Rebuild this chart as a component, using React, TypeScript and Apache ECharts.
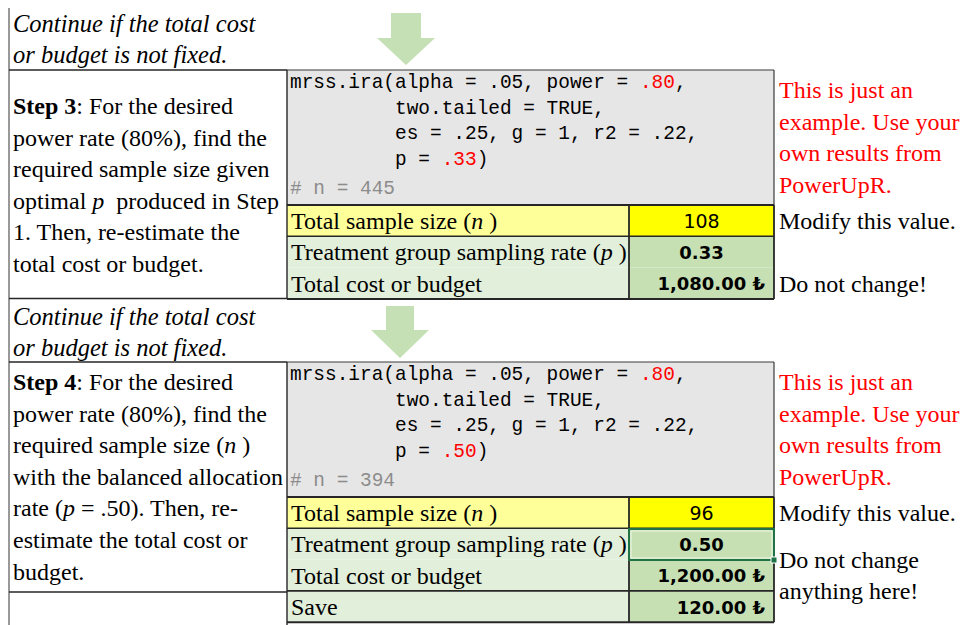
import React, { useEffect, useRef } from "react";
import * as echarts from "echarts";

// ---------- content ----------
const continueLines = ["Continue if the total cost", "or budget is not fixed."];

const step3Lines = [
  "{b|Step 3}: For the desired",
  "power rate (80%), find the",
  "required sample size given",
  "optimal {i|p}  produced in Step",
  "1. Then, re-estimate the",
  "total cost or budget.",
];
const step4Lines = [
  "{b|Step 4}: For the desired",
  "power rate (80%), find the",
  "required sample size ({i|n} )",
  "with the balanced allocation",
  "rate ({i|p} = .50). Then, re-",
  "estimate the total cost or",
  "budget.",
];

const step3Code = [
  "mrss.ira(alpha = .05, power = {r|.80},",
  "         two.tailed = TRUE,",
  "         es = .25, g = 1, r2 = .22,",
  "         p = {r|.33})",
];
const step3Result = "# n = 445";
const step4Code = [
  "mrss.ira(alpha = .05, power = {r|.80},",
  "         two.tailed = TRUE,",
  "         es = .25, g = 1, r2 = .22,",
  "         p = {r|.50})",
];
const step4Result = "# n = 394";

const step3Labels = [
  "Total sample size ({i|n} )",
  "Treatment group sampling rate ({i|p} )",
  "Total cost or budget",
];
const step3Values = ["108", "0.33", "1,080.00 ₺"];

const step4Labels = [
  "Total sample size ({i|n} )",
  "Treatment group sampling rate ({i|p} )",
  "Total cost or budget",
  "Save",
];
const step4Values = ["96", "0.50", "1,200.00 ₺", "120.00 ₺"];

const noteLines = ["This is just an", "example. Use your", "own results from", "PowerUpR."];
const modifyNote = "Modify this value.";
const step3Keep = ["Do not change!"];
const step4Keep = ["Do not change", "anything here!"];

// ---------- styling ----------
const SERIF = "'Liberation Serif', 'Times New Roman', serif";
const MONO = "'Liberation Mono', 'Courier New', monospace";
const SANS = "'DejaVu Sans', Verdana, sans-serif";
const FS = 24;
const IT_FS = 24.5;
const CODE_FS = 19.45;
const DARK = "#262626";
const ARROW = "#c5e0b4";
const CODE_BG = "#e7e6e6";
const YEL_L = "#ffff99";
const YEL_V = "#ffff00";
const GRN_L = "#e2efda";
const GRN_V = "#c6e0b4";

const serifRich = {
  b: { fontFamily: SERIF, fontSize: FS, fontWeight: "bold", fill: "#000" },
  i: { fontFamily: SERIF, fontSize: FS, fontStyle: "italic", fill: "#000" },
};
const codeRich = {
  r: { fontFamily: MONO, fontSize: CODE_FS, fill: "#ff0000" },
};

function serifText(text: string, x: number, y: number, opts: any = {}) {
  return {
    type: "text",
    x,
    y,
    z: 10,
    style: {
      text,
      fontFamily: SERIF,
      fontSize: opts.italic ? IT_FS : FS,
      fill: opts.fill || "#000",
      fontStyle: opts.italic ? "italic" : "normal",
      align: "left",
      verticalAlign: "middle",
      rich: serifRich,
    },
  };
}
function codeText(text: string, x: number, y: number, fill = "#000") {
  return {
    type: "text",
    x,
    y,
    z: 10,
    style: {
      text,
      fontFamily: MONO,
      fontSize: CODE_FS,
      fill,
      align: "left",
      verticalAlign: "middle",
      rich: codeRich,
    },
  };
}
function valText(text: string, x: number, y: number, bold: boolean, align: string) {
  return {
    type: "text",
    x,
    y,
    z: 10,
    style: {
      text,
      fontFamily: SANS,
      fontSize: bold ? 18 : 19,
      fontWeight: bold ? "bold" : "normal",
      fill: "#000",
      align,
      verticalAlign: "middle",
    },
  };
}
function rect(x: number, y: number, w: number, h: number, fill: string) {
  return { type: "rect", z: 1, shape: { x, y, width: w, height: h }, style: { fill } };
}
function line(x1: number, y1: number, x2: number, y2: number, w = 1.2, stroke = DARK) {
  return { type: "line", z: 5, shape: { x1, y1, x2, y2 }, style: { stroke, lineWidth: w } };
}
function arrow(cx: number, top: number, shaftHalf: number, neck: number, headHalf: number, tip: number) {
  return {
    type: "polygon",
    z: 3,
    shape: {
      points: [
        [cx - shaftHalf, top],
        [cx + shaftHalf, top],
        [cx + shaftHalf, neck],
        [cx + headHalf, neck],
        [cx, tip],
        [cx - headHalf, neck],
        [cx - shaftHalf, neck],
      ],
    },
    style: { fill: ARROW },
  };
}

function buildBlock(
  top: number,
  lines: string[],
  code: string[],
  result: string,
  labels: string[],
  values: string[],
  keep: string[]
) {
  const els: any[] = [];
  const L = 287;
  const V = 629;
  const R = 774;
  const codeBottom = top + 135;
  const rowH = 31.3;
  // code box
  els.push(rect(L, top, R - L, codeBottom - top, CODE_BG));
  els.push(line(L, top, R, top, 1.2, "#3a3a3a"));
  els.push(line(R, top, R, codeBottom, 1.2, "#3a3a3a"));
  code.forEach((c, k) => els.push(codeText(c, 290, top + 13 + k * 25.5)));
  els.push(codeText(result, 290, top + 119, "#8c8c8c"));
  // table
  labels.forEach((lab, k) => {
    const y = codeBottom + k * rowH;
    const yellow = k === 0;
    els.push(rect(L, y, V - L, rowH, yellow ? YEL_L : GRN_L));
    els.push(rect(V, y, R - V, rowH, yellow ? YEL_V : GRN_V));
    els.push(serifText(lab, 291, y + rowH / 2 + 0.5));
    const v = values[k];
    if (k === 0) els.push(valText(v, (V + R) / 2, y + rowH / 2 + 0.5, false, "center"));
    else if (k === 1) els.push(valText(v, (V + R) / 2, y + rowH / 2 + 0.5, true, "center"));
    else els.push(valText(v, 765, y + rowH / 2 + 0.5, true, "right"));
  });
  const tableBottom = codeBottom + labels.length * rowH;
  els.push(line(L, codeBottom, R, codeBottom, 2.2));
  els.push(line(L, codeBottom + rowH, R, codeBottom + rowH, 1.4));
  if (labels.length > 3) els.push(line(L, codeBottom + 3 * rowH, R, codeBottom + 3 * rowH, 1.6));
  els.push(line(L, tableBottom, R, tableBottom, 2));
  els.push(line(V, codeBottom, V, tableBottom, 1.8));
  els.push(line(R, codeBottom, R, tableBottom, 1.8));
  // left column texts
  const textTop = labels.length > 3 ? top + 20 : top + 36;
  lines.forEach((t, k) => els.push(serifText(t, 13, textTop + k * 31.6)));
  // notes
  noteLines.forEach((t, k) => els.push(serifText(t, 779, top + 20 + k * 31.5, { fill: "#ff0000" })));
  els.push(serifText(modifyNote, 779, codeBottom + rowH / 2 + 0.5));
  if (keep.length === 1) {
    els.push(serifText(keep[0], 779, codeBottom + 2.5 * rowH + 1));
  } else {
    keep.forEach((t, k) => els.push(serifText(t, 779, codeBottom + 2 * rowH + k * 31.6)));
  }
  return els;
}

export default function App() {
  const ref = useRef<HTMLDivElement>(null);
  useEffect(() => {
    if (!ref.current) return;
    const chart = echarts.init(ref.current, undefined, { renderer: "svg" });
    const els: any[] = [];
    els.push(rect(0, 0, 962, 625, "#ffffff"));
    // continue rows
    continueLines.forEach((t, k) => els.push(serifText(t, 13, 23 + k * 31.3, { italic: true })));
    continueLines.forEach((t, k) => els.push(serifText(t, 13, 316 + k * 31.3, { italic: true })));
    els.push(arrow(406, 13, 15, 38, 29, 65));
    els.push(arrow(400, 306, 14, 330, 29, 358));
    els.push(...buildBlock(70, step3Lines, step3Code, step3Result, step3Labels, step3Values, step3Keep));
    els.push(...buildBlock(362, step4Lines, step4Code, step4Result, step4Labels, step4Values, step4Keep));
    // grid lines of left column
    els.push(line(9, 8, 9, 625, 1.2, "#555"));
    els.push(line(9, 70, 287, 70, 1.4));
    els.push(line(9, 298.5, 287, 298.5, 1.6));
    els.push(line(9, 362, 287, 362, 1.4));
    els.push(line(9, 592, 287, 592, 1.4));
    els.push(line(287, 70, 287, 298.5, 1.4));
    els.push(line(287, 362, 287, 625, 1.4));
    // selected cell in step 4
    els.push({
      type: "rect",
      z: 20,
      shape: { x: 629, y: 529, width: 145, height: 31 },
      style: { fill: "none", stroke: "#217346", lineWidth: 2 },
    });
    els.push({
      type: "rect",
      z: 20,
      shape: { x: 631, y: 531, width: 141, height: 27 },
      style: { fill: "none", stroke: "#ffffff", lineWidth: 1, opacity: 0.7 },
    });
    els.push({ type: "rect", z: 21, shape: { x: 771, y: 557, width: 6, height: 6 }, style: { fill: "#217346", stroke: "#fff", lineWidth: 1 } });

    chart.setOption({
      animation: false,
      backgroundColor: "#ffffff",
      graphic: { elements: els },
    });
    return () => chart.dispose();
  }, []);
  return <div ref={ref} style={{ position: "absolute", left: 0, top: 0, width: 962, height: 625 }} />;
}
